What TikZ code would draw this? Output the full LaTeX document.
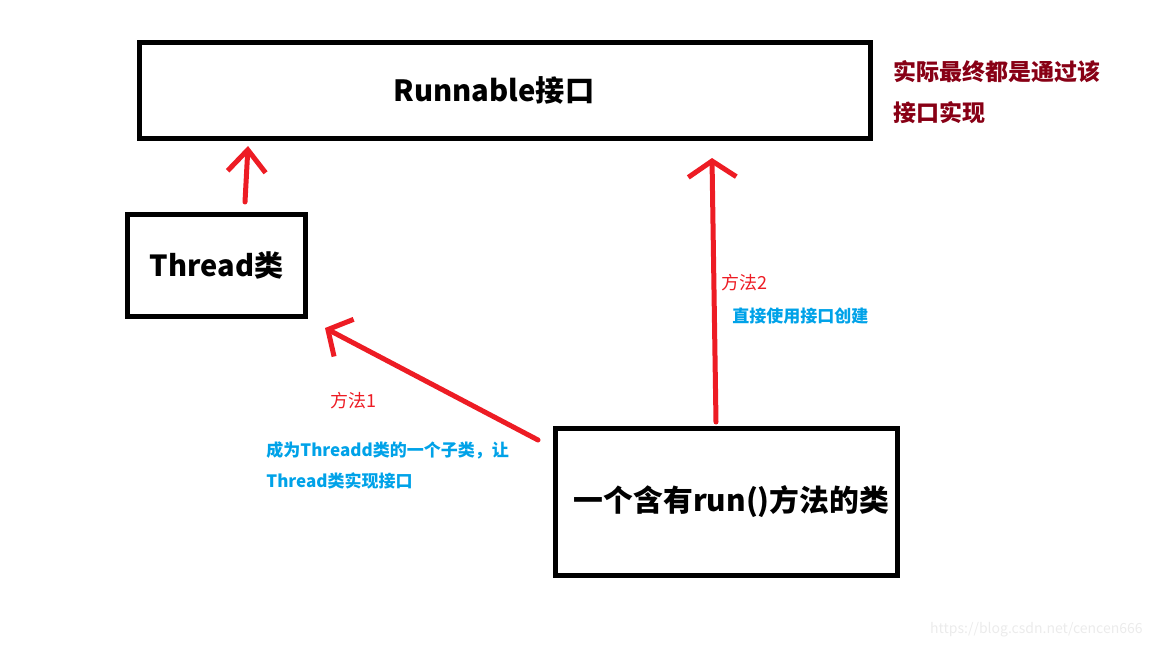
\documentclass[tikz,border=0pt]{standalone}
\usepackage{fontspec}
\setmainfont{Noto Sans CJK SC}
\usetikzlibrary{arrows.meta}
\definecolor{inkred}{RGB}{237,28,36}
\definecolor{notered}{RGB}{136,0,21}
\definecolor{noteblue}{RGB}{0,162,232}

\begin{document}
\begin{tikzpicture}[x=0.5pt,y=-0.5pt,
  box/.style={draw=black, line width=2.75pt, inner sep=0pt},
  stroke/.style={draw=inkred, line width=2.5pt, line cap=round, line join=round},
  way/.style={text=inkred, font=\fontsize{9}{11}\selectfont, anchor=west, inner sep=0pt},
  how/.style={text=noteblue, font=\bfseries\fontsize{8.5}{15.5}\selectfont, anchor=west, align=left, inner sep=0pt}]
\useasboundingbox (0,0) rectangle (1152,648);
\node[box, minimum width=365.5pt, minimum height=48pt] (runnable) at (505,90.5) {};
\node[font=\bfseries\fontsize{14.6}{18}\selectfont] (runnabletxt) at (494,90) {Runnable接口};
\node[box, minimum width=89pt, minimum height=51pt, font=\bfseries\fontsize{14.5}{18}\selectfont] (thread) at (216.5,265.5) {Thread类};
\node[box, minimum width=171pt, minimum height=73.5pt] (runclass) at (726.5,502) {};
\node[font=\bfseries\fontsize{14.9}{18}\selectfont] (runclasstxt) at (731.5,502) {一个含有run()方法的类};
\node[text=notered, font=\bfseries\fontsize{11.5}{20.5}\selectfont, anchor=west, align=left, inner sep=0pt] (note) at (893,92) {实际最终都是通过该\\接口实现};
\coordinate (a1s) at (245,202);
\coordinate (a1e) at (248,146);
\coordinate (a2s) at (716,422);
\coordinate (a2e) at (712,158);
\coordinate (a3s) at (538,440);
\coordinate (a3e) at (325,328);
\draw[stroke, -{Straight Barb[length=11pt, width=19pt]}] (a1s) -- (a1e);
\draw[stroke, -{Straight Barb[length=8pt, width=24pt]}] (a2s) -- (a2e);
\draw[stroke, -{Straight Barb[length=9pt, width=21pt]}] (a3s) -- (a3e);
\node[way] (way2) at (721,283) {方法2};
\node[how] (how2) at (732,316) {直接使用接口创建};
\node[way] (way1) at (330,401) {方法1};
\node[how] (how1) at (266,465.5) {成为Threadd类的一个子类，让\\Thread类实现接口};
\node[text=black!8, font=\fontsize{7}{9}\selectfont, anchor=east, inner sep=0pt] (mark) at (1143,630) {https://blog.csdn.net/cencen666};
\end{tikzpicture}
\end{document}
